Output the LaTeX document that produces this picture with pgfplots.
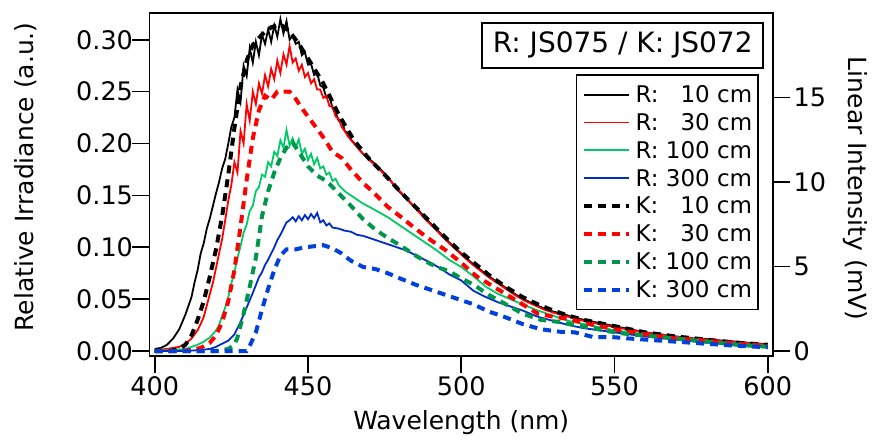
\documentclass[border=0pt]{standalone}
\usepackage{pgfplots}
\pgfplotsset{compat=1.18}
\usepackage{fontspec}
\setmainfont{DejaVu Sans}
\definecolor{rgreen}{RGB}{0,204,102}
\definecolor{kgreen}{RGB}{0,150,75}
\definecolor{rblue}{RGB}{0,45,200}
\definecolor{kblue}{RGB}{0,64,221}
\begin{document}
\begin{tikzpicture}
\useasboundingbox (0,0) rectangle (873pt,443pt);
\pgfplotsset{
  common/.style={
    scale only axis, width=623.5pt, height=343pt,
    at={(149.5pt,87pt)}, anchor=south west,
    xmin=398.3, xmax=601.7,
    tick align=outside,
    major tick length=17pt,
    every tick/.style={black, line width=1.6pt},
    axis line style={line width=1.6pt},
    /pgf/number format/assume math mode=true,
    tick label style={font=\fontsize{25.5}{30}\selectfont},
    label style={font=\fontsize{25}{30}\selectfont},
  },
  rline/.style={line width=1.8pt},
  kline/.style={line width=4pt, dash pattern=on 8pt off 6pt},
  legend image code/.code={\draw[#1] (0pt,0pt) -- (45pt,0pt);},
}
\begin{axis}[common,
  ymin=-0.0048, ymax=0.3258,
  xtick={400,450,500,550,600}, xtick pos=bottom,
  ytick={0,0.05,0.10,0.15,0.20,0.25,0.30}, ytick pos=left,
  yticklabel style={xshift=4pt, /pgf/number format/.cd, fixed, fixed zerofill, precision=2},
  xlabel={Wavelength (nm)}, ylabel={Relative Irradiance (a.u.)},
  xlabel style={at={(axis description cs:0.5,-0.195)}, anchor=center},
  ylabel style={at={(axis description cs:-0.198,0.522)}, anchor=center},
  legend style={at={(axis description cs:0.9775,0.822)}, anchor=north east,
    draw=black, line width=1.6pt, font=\fontsize{23}{27}\selectfont,
    cells={anchor=west}, inner xsep=5pt, inner ysep=9.5pt,
    row sep=7.3pt, column sep=4pt,
    nodes={inner sep=1pt}},
]
% R 10 cm
\addplot[rline, black] table {
400 0.002
402 0.003
404 0.006
406 0.012
408 0.021
410 0.035
412 0.052
413 0.066
414 0.078
415 0.094
416 0.104
417 0.118
418 0.128
419 0.140
420 0.152
421 0.163
422 0.176
423 0.185
424 0.200
425 0.216
426 0.225
427 0.252
428 0.240
429 0.275
430 0.265
431 0.292
432 0.278
433 0.298
434 0.285
435 0.305
436 0.296
437 0.310
438 0.298
439 0.314
440 0.303
441 0.320
442 0.306
443 0.318
444 0.300
445 0.304
446 0.296
447 0.298
448 0.285
449 0.288
450 0.276
451 0.277
452 0.266
453 0.268
454 0.256
455 0.254
456 0.244
457 0.246
458 0.234
459 0.230
460 0.222
461 0.223
462 0.212
463 0.210
464 0.204
466 0.197
468 0.190
470 0.185
472 0.180
474 0.174
476 0.168
478 0.160
480 0.153
482 0.147
484 0.141
486 0.136
488 0.129
490 0.123
492 0.117
494 0.111
496 0.105
498 0.099
500 0.094
503 0.086
506 0.079
509 0.072
512 0.066
515 0.060
518 0.054
521 0.049
524 0.045
527 0.041
530 0.038
533 0.036
536 0.033
540 0.030
545 0.027
550 0.024
555 0.021
560 0.018
565 0.016
570 0.014
575 0.012
580 0.0115
585 0.010
590 0.009
595 0.0075
600 0.0065
};
\addlegendentry{R: \hphantom{0}10 cm}
% R 30 cm
\addplot[rline, red] table {
400 0.001
404 0.002
408 0.004
410 0.007
412 0.012
414 0.020
415 0.026
416 0.033
417 0.044
418 0.055
419 0.066
420 0.080
421 0.094
422 0.108
423 0.126
424 0.145
425 0.160
426 0.182
427 0.172
428 0.212
429 0.200
430 0.238
431 0.222
432 0.250
433 0.238
434 0.258
435 0.248
436 0.266
437 0.255
438 0.272
439 0.262
440 0.280
441 0.268
442 0.286
443 0.276
444 0.294
445 0.278
446 0.282
447 0.270
448 0.276
449 0.264
450 0.268
451 0.258
452 0.262
453 0.252
454 0.252
455 0.244
456 0.246
457 0.236
458 0.236
459 0.226
460 0.224
461 0.216
462 0.212
463 0.207
465 0.200
467 0.193
470 0.184
473 0.176
476 0.167
480 0.154
484 0.141
488 0.128
492 0.116
496 0.104
500 0.093
503 0.085
506 0.078
509 0.071
512 0.065
515 0.059
518 0.053
521 0.048
524 0.044
527 0.040
530 0.037
535 0.033
540 0.029
545 0.026
550 0.023
560 0.018
570 0.014
580 0.011
590 0.0085
600 0.006
};
\addlegendentry{R: \hphantom{0}30 cm}
% R 100 cm
\addplot[rline, rgreen] table {
400 0.000
405 0.001
410 0.002
412 0.004
414 0.006
416 0.009
418 0.013
420 0.020
421 0.025
422 0.034
423 0.042
424 0.052
425 0.065
426 0.076
427 0.090
428 0.101
429 0.114
430 0.122
431 0.135
432 0.140
433 0.154
434 0.158
435 0.170
436 0.168
437 0.182
438 0.178
439 0.192
440 0.188
441 0.203
442 0.196
443 0.213
444 0.198
445 0.205
446 0.196
447 0.204
448 0.190
449 0.195
450 0.184
451 0.190
452 0.180
453 0.186
454 0.176
455 0.178
456 0.170
457 0.172
458 0.164
459 0.166
460 0.160
462 0.154
464 0.150
466 0.146
468 0.142
470 0.139
473 0.134
476 0.129
480 0.121
484 0.113
488 0.105
492 0.097
496 0.088
500 0.081
504 0.072
508 0.062
512 0.055
516 0.050
520 0.045
525 0.039
530 0.034
535 0.029
540 0.026
545 0.023
550 0.020
560 0.016
570 0.013
580 0.010
590 0.007
600 0.005
};
\addlegendentry{R: 100 cm}
% R 300 cm
\addplot[rline, rblue] table {
400 0.000
410 0.000
415 0.001
418 0.002
420 0.004
422 0.007
424 0.010
426 0.016
428 0.028
430 0.042
432 0.056
434 0.071
435 0.076
436 0.083
437 0.088
438 0.094
439 0.100
440 0.107
441 0.112
442 0.118
443 0.124
444 0.126
445 0.129
446 0.125
447 0.130
448 0.126
449 0.131
450 0.127
451 0.132
452 0.128
453 0.133
454 0.124
455 0.126
456 0.121
457 0.123
458 0.119
460 0.118
462 0.116
464 0.115
466 0.112
468 0.111
470 0.109
474 0.105
478 0.101
482 0.097
486 0.091
490 0.085
493 0.080
496 0.074
500 0.068
504 0.058
508 0.052
512 0.047
516 0.043
520 0.039
525 0.033
530 0.029
535 0.025
540 0.022
545 0.020
550 0.018
560 0.014
570 0.011
580 0.008
590 0.006
600 0.004
};
\addlegendentry{R: 300 cm}
% K 10 cm
\addplot[kline, black] table {
400 0.000
405 0.000
408 0.002
410 0.006
412 0.015
414 0.030
416 0.048
418 0.072
420 0.098
422 0.130
424 0.170
426 0.215
428 0.255
430 0.280
432 0.295
435 0.305
438 0.312
441 0.315
444 0.308
447 0.296
450 0.282
455 0.258
460 0.228
465 0.203
470 0.185
475 0.170
480 0.154
485 0.139
490 0.124
495 0.109
500 0.095
505 0.083
510 0.071
515 0.061
520 0.052
525 0.045
530 0.039
535 0.034
540 0.030
545 0.027
550 0.024
560 0.018
570 0.014
580 0.011
590 0.008
600 0.006
};
\addlegendentry{K: \hphantom{0}10 cm}
% K 30 cm
\addplot[kline, red] table {
400 0.000
408 0.000
412 0.001
415 0.003
418 0.008
420 0.015
422 0.028
424 0.048
426 0.078
428 0.120
430 0.165
432 0.205
434 0.232
436 0.246
438 0.242
440 0.250
442 0.250
444 0.250
446 0.243
448 0.234
450 0.226
452 0.218
455 0.206
458 0.192
461 0.186
464 0.175
468 0.162
472 0.151
476 0.139
480 0.130
485 0.118
490 0.107
495 0.097
500 0.085
505 0.072
510 0.063
515 0.054
520 0.045
525 0.036
530 0.033
535 0.031
540 0.027
545 0.024
550 0.021
560 0.016
570 0.012
580 0.010
590 0.007
600 0.005
};
\addlegendentry{K: \hphantom{0}30 cm}
% K 100 cm
\addplot[kline, kgreen] table {
400 0.000
420 0.000
424 0.002
426 0.006
427 0.013
429 0.036
431 0.062
433 0.090
435 0.130
437 0.154
439 0.172
441 0.186
443 0.196
445 0.201
447 0.192
450 0.178
453 0.169
456 0.164
460 0.152
464 0.140
468 0.127
472 0.117
476 0.109
480 0.102
484 0.094
488 0.087
492 0.081
496 0.077
500 0.070
504 0.064
509 0.054
514 0.046
520 0.036
526 0.030
532 0.028
537 0.025
543 0.022
548 0.019
555 0.016
560 0.015
570 0.012
580 0.009
590 0.006
600 0.004
};
\addlegendentry{K: 100 cm}
% K 300 cm
\addplot[kline, kblue] table {
400 0.000
430 0.000
431 0.005
433 0.018
435 0.040
437 0.060
439 0.078
441 0.092
443 0.098
446 0.098
449 0.100
452 0.101
455 0.102
458 0.099
461 0.094
464 0.087
468 0.081
472 0.079
476 0.075
480 0.070
485 0.064
490 0.059
495 0.054
500 0.049
504 0.045
509 0.038
514 0.033
520 0.026
526 0.021
532 0.0186
537 0.018
543 0.0135
549 0.0135
555 0.012
560 0.011
570 0.009
580 0.007
590 0.005
600 0.0036
};
\addlegendentry{K: 300 cm}
\node[draw=black, line width=1.6pt, anchor=north east, minimum width=281pt,
  minimum height=45pt, inner sep=0pt, font=\fontsize{28}{32}\selectfont]
  at (rel axis cs:0.9856,0.9738) {R: JS075 / K: JS072};
\end{axis}
\begin{axis}[common,
  ymin=-0.3, ymax=20,
  axis x line=none, axis y line*=right,
  ytick={0,5,10,15},
  ylabel={Linear Intensity (mV)},
  ylabel style={at={(axis description cs:1.1315,0.488)}, anchor=center, rotate=180},
]
\end{axis}
\end{tikzpicture}
\end{document}
